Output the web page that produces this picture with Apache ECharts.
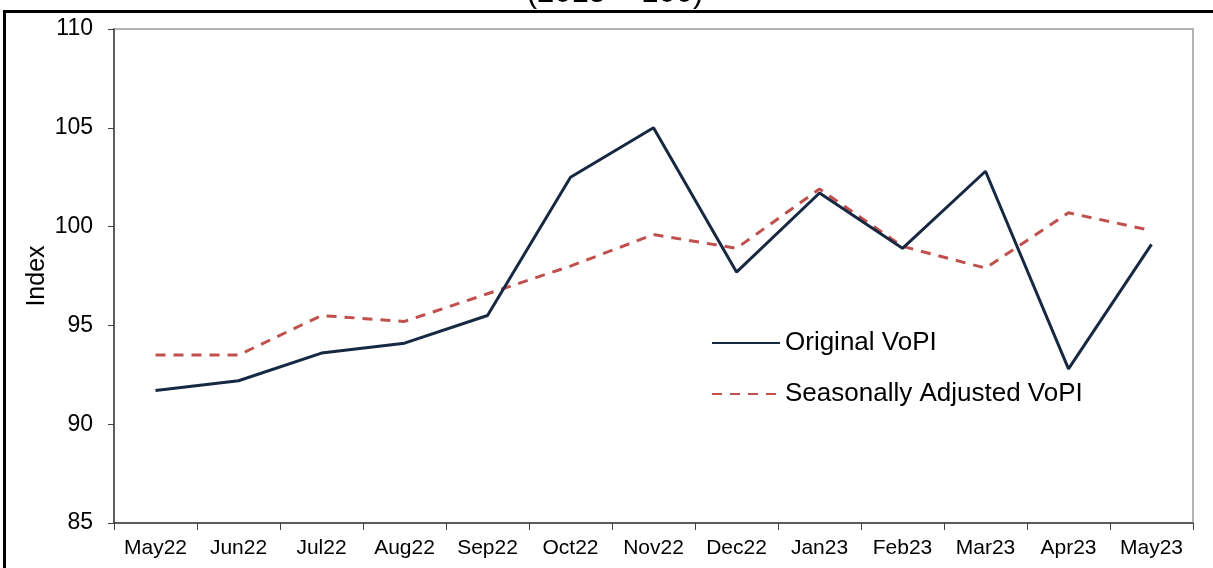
<!DOCTYPE html>
<html>
<head>
<meta charset="utf-8">
<script src="https://cdn.jsdelivr.net/npm/echarts@6/dist/echarts.min.js"></script>
<style>
  html, body { margin: 0; padding: 0; background: #fff; }
  #chart { width: 1213px; height: 568px; }
</style>
</head>
<body>
<div id="chart"></div>
<script>
// months on the x axis
const months = ["May22", "Jun22", "Jul22", "Aug22", "Sep22", "Oct22", "Nov22",
  "Dec22", "Jan23", "Feb23", "Mar23", "Apr23", "May23"];
// index values
const originalVoPI = [91.7, 92.2, 93.6, 94.1, 95.5, 102.5, 105.0, 97.7, 101.7, 98.9, 102.8, 92.8, 99.1];
const seasonalVoPI = [93.5, 93.5, 95.5, 95.2, 96.6, 98.0, 99.6, 98.9, 101.9, 99.0, 97.9, 100.7, 99.8];
const yTicks = [85, 90, 95, 100, 105, 110];

const font = "Liberation Sans, Arial, sans-serif";
const chart = echarts.init(document.getElementById("chart"));

chart.setOption({
  animation: false,
  backgroundColor: "#fff",
  graphic: [
    {
      type: "rect",
      shape: { x: 4.5, y: 11.5, width: 1300, height: 700 },
      style: { fill: "none", stroke: "#000", lineWidth: 3 },
      z: 100,
    },
    {
      type: "text",
      x: 615,
      y: 9,
      style: {
        text: "(2015 = 100)",
        font: "31px " + font,
        fill: "#000",
        align: "center",
        verticalAlign: "bottom",
      },
    },
  ],
  grid: {
    left: 114,
    right: 20,
    top: 29,
    bottom: 45,
    show: true,
    borderColor: "#b3b3b3",
    borderWidth: 2,
  },
  legend: {
    orient: "vertical",
    left: 706,
    top: 325,
    itemWidth: 68,
    itemHeight: 14,
    itemGap: 25,
    itemStyle: { opacity: 0 },
    textStyle: { fontFamily: font, fontSize: 26, color: "#000" },
    data: ["Original VoPI", "Seasonally Adjusted VoPI"],
  },
  xAxis: {
    type: "category",
    data: months,
    boundaryGap: true,
    axisLine: { lineStyle: { color: "#404040", width: 1.5 } },
    axisTick: { show: true, length: 7, lineStyle: { color: "#404040" } },
    axisLabel: { fontFamily: font, fontSize: 21, color: "#000", margin: 15 },
    splitLine: { show: false },
  },
  yAxis: {
    type: "value",
    min: yTicks[0],
    max: yTicks[yTicks.length - 1],
    interval: 5,
    name: "Index",
    nameLocation: "middle",
    nameGap: 64,
    nameMoveOverlap: false,
    nameTextStyle: { fontFamily: font, fontSize: 25, color: "#000" },
    axisLine: { show: true, lineStyle: { color: "#404040", width: 1.5 } },
    axisTick: { show: true, length: 6, lineStyle: { color: "#404040" } },
    axisLabel: { fontFamily: font, fontSize: 23, color: "#000", margin: 21 },
    splitLine: { show: false },
  },
  series: [
    {
      name: "Original VoPI",
      type: "line",
      data: originalVoPI,
      symbol: "none",
      lineStyle: { color: "#172842", width: 3 },
      itemStyle: { color: "#172842" },
      z: 3,
    },
    {
      name: "Seasonally Adjusted VoPI",
      type: "line",
      data: seasonalVoPI,
      symbol: "none",
      lineStyle: { color: "#c0504d", width: 3, type: [10, 8] },
      itemStyle: { color: "#c0504d" },
      z: 2,
    },
  ],
});
</script>
</body>
</html>
